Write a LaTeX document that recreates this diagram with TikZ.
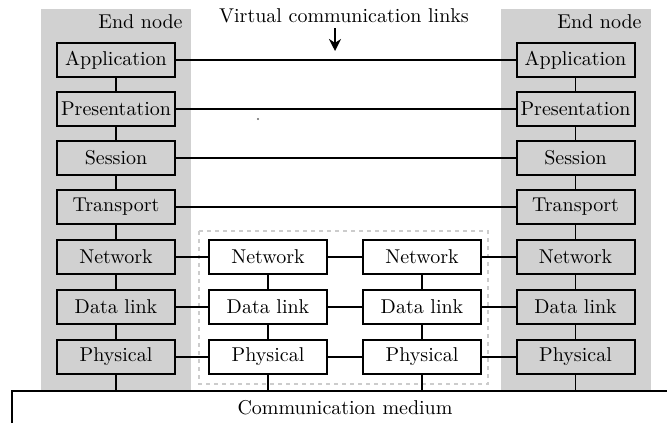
\documentclass[tikz,border=0pt]{standalone}
\usetikzlibrary{arrows.meta}
\begin{document}
\begin{tikzpicture}[x=0.5pt,y=-0.5pt,
  layerbox/.style={draw=black,line width=1pt,fill=black!18,minimum width=59pt,minimum height=17pt,inner sep=0pt,font=\fontsize{10}{12}\selectfont},
  relaybox/.style={layerbox,fill=white},
  link/.style={line width=0.9pt},
  panel/.style={fill=black!18,draw=none}]
\useasboundingbox (0,0) rectangle (667,423);
% panels
\fill[black!18] (41,9) rectangle (191,391);
\fill[black!18] (501,9) rectangle (651,391);
\draw[black!20,dash pattern=on 2pt off 2pt,line width=0.8pt] (199,231) rectangle (488,384);
% labels
\node[anchor=east,inner sep=0pt] (eL) at (183,22) {End node};
\node[anchor=east,inner sep=0pt] (eR) at (642,22) {End node};
\node[inner sep=0pt] (vcl) at (344,16) {Virtual communication links};
\coordinate (aS) at (335,28);
\coordinate (aE) at (335,51);
\draw[line width=1pt,-{Stealth[length=6pt,width=6pt]}] (aS) -- (aE);
% stacks
\foreach \n/\t/\y in {1/Application/60,2/Presentation/109,3/Session/158,4/Transport/207,5/Network/257,6/Data link/307,7/Physical/357}{
  \node[layerbox] (l\n) at (116,\y) {\t};
  \node[layerbox] (r\n) at (575.5,\y) {\t};
}
\foreach \n/\t/\y in {5/Network/257,6/Data link/307,7/Physical/357}{
  \node[relaybox] (a\n) at (268,\y) {\t};
  \node[relaybox] (b\n) at (422,\y) {\t};
}
% vertical links
\foreach \i/\j in {1/2,2/3,3/4,4/5,5/6,6/7}{
  \draw[link] (l\i) -- (l\j);
  \draw[link] (r\i) -- (r\j);
}
\draw[link] (a5) -- (a6) (a6) -- (a7) (b5) -- (b6) (b6) -- (b7);
% horizontal virtual links
\foreach \i in {1,2,3,4}{ \draw[link] (l\i) -- (r\i); }
\foreach \i in {5,6,7}{ \draw[link] (l\i) -- (a\i) (a\i) -- (b\i) (b\i) -- (r\i); }
% medium
\coordinate (m0) at (12,423);
\coordinate (m1) at (12,391);
\coordinate (m2) at (667,391);
\draw[link] (m0) -- (m1) -- (m2);
\foreach \s in {l7,a7,b7,r7}{ \draw[link] (\s.south) -- (\s.south |- m1); }
\node[inner sep=0pt] (med) at (345,408) {Communication medium};
\fill[black!60] (258,119) circle (0.6pt);
\end{tikzpicture}
\end{document}
